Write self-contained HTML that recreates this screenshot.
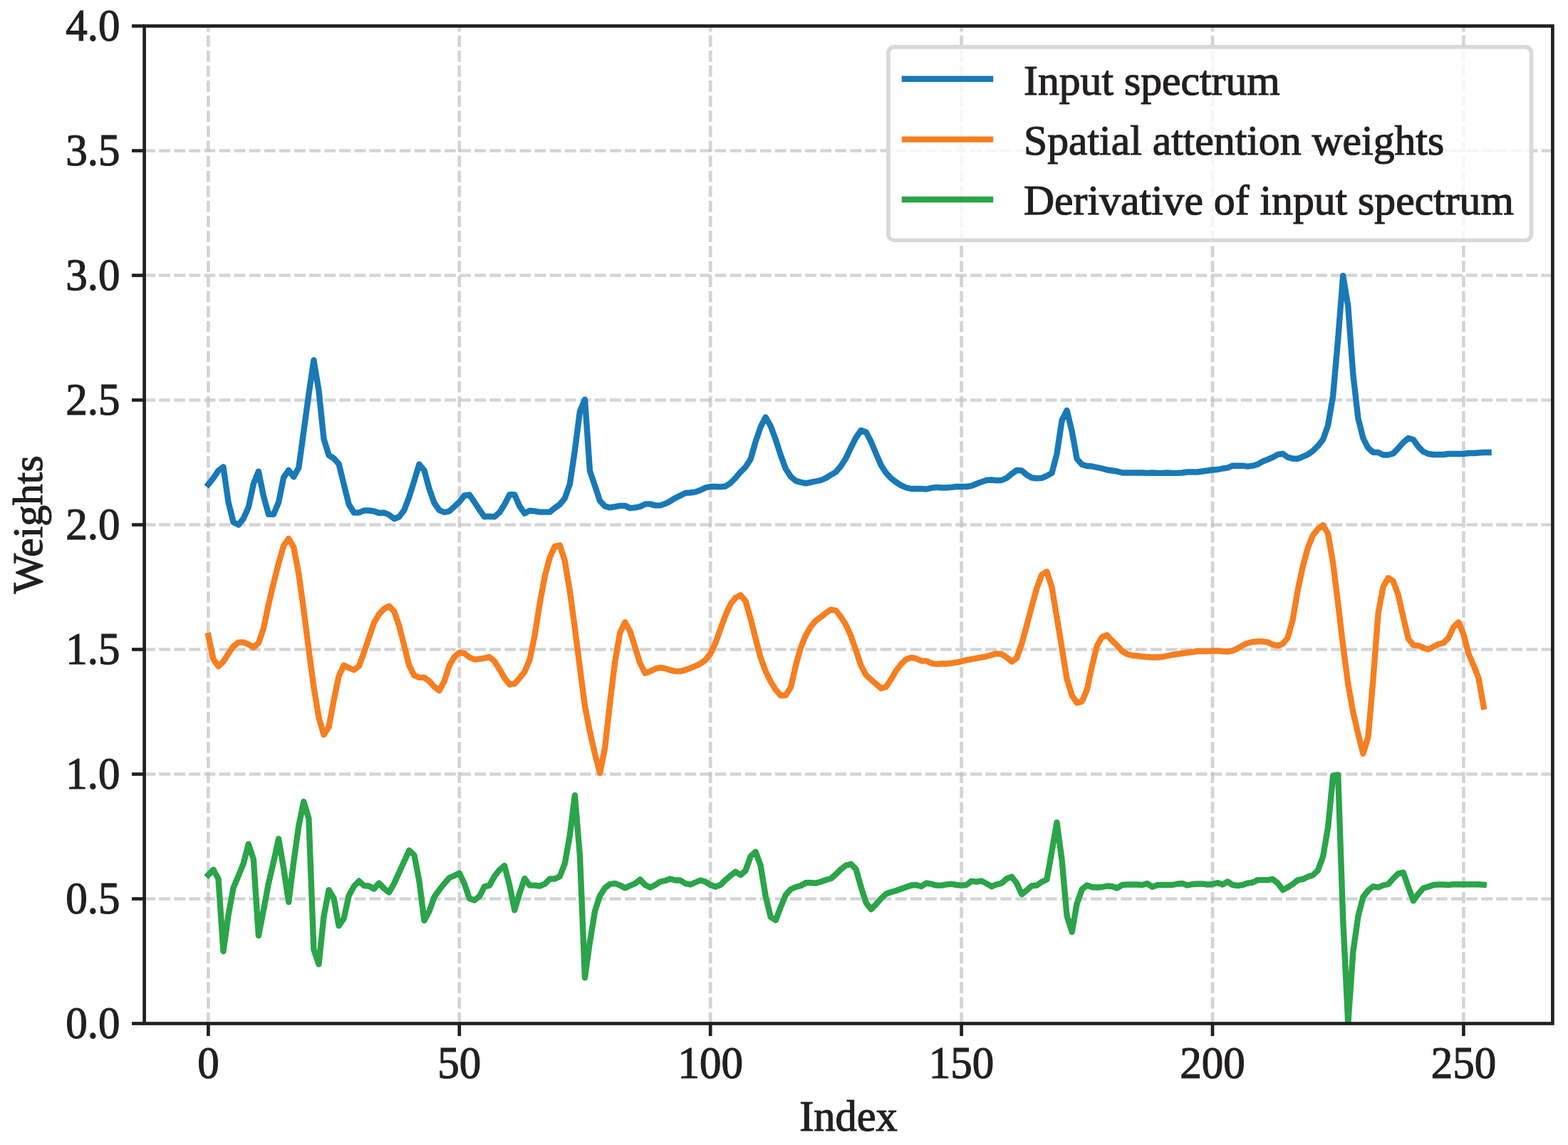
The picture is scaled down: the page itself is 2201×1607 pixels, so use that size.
<!DOCTYPE html>
<html><head><meta charset="utf-8"><title>Weights plot</title>
<style>
html,body{margin:0;padding:0;background:#fff;}
body{width:2201px;height:1607px;overflow:hidden;}
svg{display:block;}
text{font-family:"Liberation Serif","Times New Roman",serif;fill:#231f20;stroke:#231f20;stroke-width:1.2px;}
</style></head><body>
<svg width="2201" height="1607" viewBox="0 0 2201 1607">
<rect x="0" y="0" width="2201" height="1607" fill="#fff"/>
<g stroke="rgba(190,191,194,0.68)" stroke-width="4.7" stroke-dasharray="15.8 5.29" fill="none"><line x1="202.2" y1="1261.5" x2="2179.4" y2="1261.5"/><line x1="202.2" y1="1086.5" x2="2179.4" y2="1086.5"/><line x1="202.2" y1="911.5" x2="2179.4" y2="911.5"/><line x1="202.2" y1="736.5" x2="2179.4" y2="736.5"/><line x1="202.2" y1="561.5" x2="2179.4" y2="561.5"/><line x1="202.2" y1="386.5" x2="2179.4" y2="386.5"/><line x1="202.2" y1="211.5" x2="2179.4" y2="211.5"/><line x1="292.4" y1="1436.5" x2="292.4" y2="36.5"/><line x1="644.8" y1="1436.5" x2="644.8" y2="36.5"/><line x1="997.2" y1="1436.5" x2="997.2" y2="36.5"/><line x1="1349.6" y1="1436.5" x2="1349.6" y2="36.5"/><line x1="1702.0" y1="1436.5" x2="1702.0" y2="36.5"/><line x1="2054.4" y1="1436.5" x2="2054.4" y2="36.5"/></g>
<defs><clipPath id="ax"><rect x="202.6" y="36.5" width="1976.8" height="1400.0"/></clipPath></defs>
<g clip-path="url(#ax)">
<polyline fill="none" stroke="#1979b6" stroke-width="8.4" stroke-linejoin="round" stroke-linecap="square" points="292.4,679.8 299.4,671.1 306.5,660.5 313.5,655.3 320.6,705.0 327.6,733.0 334.7,736.5 341.7,727.8 348.8,712.0 355.8,679.1 362.9,661.6 369.9,696.2 377.0,721.8 384.0,721.8 391.1,705.0 398.1,670.4 405.2,659.9 412.2,669.3 419.3,656.4 426.3,605.6 433.4,553.4 440.4,505.5 447.5,548.2 454.5,616.1 461.6,638.9 468.6,643.4 475.6,651.1 482.7,680.0 489.7,708.0 496.8,719.5 503.8,719.5 510.9,716.5 517.9,716.5 525.0,717.5 532.0,720.0 539.1,719.5 546.1,722.5 553.2,728.0 560.2,725.5 567.3,716.0 574.3,697.5 581.4,675.0 588.4,651.6 595.5,660.1 602.5,686.0 609.6,706.0 616.6,716.0 623.7,719.0 630.7,717.5 637.8,711.0 644.8,704.5 651.8,695.5 658.9,694.5 665.9,704.5 673.0,715.5 680.0,725.2 687.1,724.8 694.1,725.4 701.2,719.2 708.2,708.0 715.3,694.3 722.3,694.3 729.4,710.5 736.4,720.7 743.5,716.7 750.5,717.4 757.6,718.6 764.6,718.6 771.7,718.6 778.7,713.0 785.8,708.0 792.8,699.3 799.9,679.4 806.9,632.1 814.0,577.4 821.0,560.6 828.0,661.0 835.1,681.9 842.1,703.0 849.2,710.5 856.2,712.4 863.3,711.1 870.3,709.9 877.4,709.9 884.4,713.1 891.5,712.4 898.5,711.0 905.6,707.4 912.6,707.4 919.7,709.4 926.7,709.4 933.8,706.9 940.8,703.4 947.9,698.9 954.9,695.4 962.0,691.9 969.0,691.5 976.1,690.4 983.1,688.0 990.2,684.5 997.2,683.0 1004.2,683.0 1011.3,683.4 1018.3,682.5 1025.4,677.9 1032.4,670.9 1039.5,662.4 1046.5,655.5 1053.6,644.5 1060.6,620.0 1067.7,599.0 1074.7,585.5 1081.8,598.0 1088.8,617.0 1095.9,639.0 1102.9,658.0 1110.0,668.9 1117.0,674.9 1124.1,676.9 1131.1,678.4 1138.2,676.9 1145.2,675.5 1152.3,674.0 1159.3,670.9 1166.4,666.5 1173.4,662.4 1180.4,654.0 1187.5,642.9 1194.5,628.0 1201.6,614.0 1208.6,604.0 1215.7,606.5 1222.7,620.0 1229.8,637.0 1236.8,653.0 1243.9,663.9 1250.9,671.4 1258.0,676.9 1265.0,681.4 1272.1,684.5 1279.1,686.0 1286.2,686.0 1293.2,686.0 1300.3,686.5 1307.3,684.9 1314.4,683.9 1321.4,684.5 1328.5,684.5 1335.5,683.9 1342.6,683.0 1349.6,683.0 1356.6,683.0 1363.7,681.9 1370.7,679.0 1377.8,676.4 1384.8,674.0 1391.9,673.5 1398.9,674.4 1406.0,674.0 1413.0,670.9 1420.1,665.0 1427.1,660.0 1434.2,660.4 1441.2,666.5 1448.3,670.5 1455.3,671.4 1462.4,670.9 1469.4,667.9 1476.5,663.9 1483.5,637.0 1490.6,590.0 1497.6,576.0 1504.7,605.5 1511.7,644.0 1518.8,652.0 1525.8,654.0 1532.8,654.5 1539.9,656.0 1546.9,657.5 1554.0,659.5 1561.0,660.5 1568.1,661.5 1575.1,663.5 1582.2,663.5 1589.2,663.5 1596.3,663.5 1603.3,663.5 1610.4,663.9 1617.4,663.5 1624.5,663.9 1631.5,663.9 1638.6,663.5 1645.6,663.9 1652.7,663.9 1659.7,663.5 1666.8,662.5 1673.8,662.5 1680.9,662.5 1687.9,661.5 1695.0,660.5 1702.0,659.5 1709.0,659.0 1716.1,657.5 1723.1,656.7 1730.2,653.7 1737.2,653.7 1744.3,653.7 1751.3,654.7 1758.4,653.7 1765.4,651.7 1772.5,647.7 1779.5,644.8 1786.6,641.8 1793.6,637.8 1800.7,636.8 1807.7,641.8 1814.8,643.8 1821.8,643.8 1828.9,640.8 1835.9,637.8 1843.0,632.8 1850.0,625.8 1857.1,616.9 1864.1,597.0 1871.2,555.2 1878.2,475.5 1885.2,386.9 1892.3,429.7 1899.3,525.3 1906.4,587.0 1913.4,614.9 1920.5,628.8 1927.5,634.8 1934.6,635.0 1941.6,638.5 1948.7,638.5 1955.7,636.5 1962.8,629.0 1969.8,621.0 1976.9,615.0 1983.9,617.0 1991.0,627.0 1998.0,634.0 2005.1,637.0 2012.1,638.0 2019.2,638.0 2026.2,638.0 2033.3,637.0 2040.3,637.0 2047.4,637.0 2054.4,637.0 2061.4,636.0 2068.5,636.0 2075.5,635.5 2082.6,635.0 2089.6,635.0"/>
<polyline fill="none" stroke="#f57f21" stroke-width="8.4" stroke-linejoin="round" stroke-linecap="square" points="292.4,892.2 299.4,924.9 306.5,935.2 313.5,928.6 320.6,917.4 327.6,907.2 334.7,901.6 341.7,901.4 348.8,904.4 355.8,908.6 362.9,902.5 369.9,881.9 377.0,848.3 384.0,818.4 391.1,790.4 398.1,766.1 405.2,755.9 412.2,768.0 419.3,805.4 426.3,855.8 433.4,911.8 440.4,964.1 447.5,1007.0 454.5,1031.3 461.6,1020.1 468.6,982.8 475.6,949.0 482.7,933.8 489.7,937.4 496.8,940.2 503.8,935.0 510.9,915.9 517.9,895.0 525.0,874.0 532.0,862.0 539.1,854.5 546.1,850.7 553.2,858.0 560.2,878.0 567.3,906.0 574.3,934.0 581.4,947.9 588.4,950.9 595.5,950.9 602.5,956.0 609.6,963.9 616.6,969.2 623.7,956.0 630.7,934.0 637.8,922.0 644.8,915.9 651.8,917.0 658.9,922.5 665.9,925.5 673.0,924.9 680.0,923.7 687.1,922.1 694.1,928.2 701.2,939.4 708.2,951.7 715.3,960.7 722.3,959.6 729.4,951.7 736.4,942.8 743.5,926.0 750.5,892.4 757.6,847.5 764.6,809.4 771.7,782.6 778.7,766.9 785.8,765.3 792.8,787.0 799.9,829.6 806.9,881.2 814.0,937.2 821.0,990.9 828.0,1026.8 835.1,1058.1 842.1,1085.0 849.2,1049.2 856.2,986.4 863.3,928.2 870.3,887.9 877.4,873.3 884.4,886.1 891.5,908.5 898.5,930.9 905.6,944.9 912.6,942.1 919.7,938.7 926.7,937.0 933.8,938.2 940.8,940.4 947.9,942.1 954.9,942.1 962.0,940.4 969.0,937.6 976.1,934.8 983.1,931.5 990.2,926.4 997.2,917.4 1004.2,902.9 1011.3,882.7 1018.3,863.7 1025.4,848.0 1032.4,839.0 1039.5,835.3 1046.5,843.5 1053.6,868.2 1060.6,896.2 1067.7,923.0 1074.7,942.1 1081.8,956.6 1088.8,967.9 1095.9,976.2 1102.9,975.7 1110.0,964.5 1117.0,934.2 1124.1,908.5 1131.1,891.7 1138.2,879.4 1145.2,871.0 1152.3,865.9 1159.3,860.3 1166.4,855.6 1173.4,857.0 1180.4,865.9 1187.5,877.1 1194.5,892.8 1201.6,913.0 1208.6,934.2 1215.7,947.7 1222.7,953.9 1229.8,960.0 1236.8,966.0 1243.9,963.9 1250.9,953.3 1258.0,941.0 1265.0,932.0 1272.1,925.3 1279.1,923.0 1286.2,924.2 1293.2,927.5 1300.3,927.6 1307.3,930.8 1314.4,932.1 1321.4,931.5 1328.5,931.5 1335.5,930.8 1342.6,929.6 1349.6,928.3 1356.6,926.4 1363.7,925.1 1370.7,923.8 1377.8,922.5 1384.8,921.3 1391.9,919.3 1398.9,917.4 1406.0,918.1 1413.0,922.5 1420.1,928.6 1427.1,923.8 1434.2,903.4 1441.2,877.9 1448.3,851.1 1455.3,825.6 1462.4,806.5 1469.4,802.4 1476.5,824.3 1483.5,866.4 1490.6,909.8 1497.6,953.1 1504.7,976.1 1511.7,986.4 1518.8,984.4 1525.8,968.0 1532.8,935.0 1539.9,906.0 1546.9,894.0 1554.0,891.5 1561.0,899.0 1568.1,906.0 1575.1,914.0 1582.2,918.0 1589.2,920.0 1596.3,920.5 1603.3,921.5 1610.4,922.0 1617.4,922.5 1624.5,922.5 1631.5,922.0 1638.6,920.5 1645.6,919.0 1652.7,918.0 1659.7,917.0 1666.8,916.0 1673.8,915.0 1680.9,914.0 1687.9,914.0 1695.0,914.0 1702.0,913.5 1709.0,913.5 1716.1,914.0 1723.1,914.5 1730.2,913.4 1737.2,910.1 1744.3,905.8 1751.3,902.5 1758.4,901.0 1765.4,900.3 1772.5,900.3 1779.5,901.4 1786.6,904.7 1793.6,906.2 1800.7,903.6 1807.7,894.9 1814.8,868.8 1821.8,827.4 1828.9,794.7 1835.9,768.6 1843.0,751.1 1850.0,742.4 1857.1,737.0 1864.1,749.0 1871.2,790.3 1878.2,847.0 1885.2,905.8 1892.3,960.3 1899.3,999.5 1906.4,1029.9 1913.4,1057.8 1920.5,1034.3 1927.5,953.7 1934.6,860.6 1941.6,823.3 1948.7,811.1 1955.7,815.8 1962.8,835.3 1969.8,866.6 1976.9,896.5 1983.9,905.4 1991.0,906.2 1998.0,909.2 2005.1,911.4 2012.1,907.7 2019.2,904.0 2026.2,902.5 2033.3,895.0 2040.3,880.1 2047.4,873.4 2054.4,890.5 2061.4,917.4 2068.5,933.8 2075.5,951.8 2082.6,991.8"/>
<polyline fill="none" stroke="#2ba44a" stroke-width="8.4" stroke-linejoin="round" stroke-linecap="square" points="292.4,1228.0 299.4,1220.6 306.5,1233.3 313.5,1335.2 320.6,1284.0 327.6,1246.0 334.7,1229.1 341.7,1212.1 348.8,1184.6 355.8,1205.8 362.9,1313.2 369.9,1277.7 377.0,1239.6 384.0,1210.0 391.1,1177.2 398.1,1218.5 405.2,1266.0 412.2,1210.0 419.3,1159.2 426.3,1125.0 433.4,1148.7 440.4,1332.7 447.5,1353.4 454.5,1286.1 461.6,1249.1 468.6,1260.8 475.6,1299.4 482.7,1288.9 489.7,1257.0 496.8,1244.0 503.8,1236.5 510.9,1243.0 517.9,1243.5 525.0,1247.5 532.0,1239.5 539.1,1247.0 546.1,1252.5 553.2,1240.0 560.2,1224.5 567.3,1209.0 574.3,1193.5 581.4,1200.0 588.4,1236.0 595.5,1292.0 602.5,1279.0 609.6,1259.0 616.6,1249.0 623.7,1240.0 630.7,1232.0 637.8,1229.0 644.8,1225.5 651.8,1240.0 658.9,1261.0 665.9,1263.5 673.0,1258.0 680.0,1244.4 687.1,1242.6 694.1,1229.9 701.2,1220.9 708.2,1215.0 715.3,1242.6 722.3,1277.4 729.4,1253.4 736.4,1233.0 743.5,1242.6 750.5,1242.6 757.6,1243.5 764.6,1240.8 771.7,1233.5 778.7,1233.5 785.8,1229.9 792.8,1211.9 799.9,1172.2 806.9,1116.2 814.0,1201.1 821.0,1372.2 828.0,1322.0 835.1,1278.7 842.1,1257.0 849.2,1246.2 856.2,1240.8 863.3,1239.9 870.3,1242.6 877.4,1246.2 884.4,1243.0 891.5,1240.0 898.5,1234.5 905.6,1242.0 912.6,1245.5 919.7,1242.0 926.7,1237.5 933.8,1236.0 940.8,1233.5 947.9,1235.5 954.9,1235.5 962.0,1240.0 969.0,1241.5 976.1,1238.5 983.1,1235.5 990.2,1237.5 997.2,1242.0 1004.2,1244.5 1011.3,1242.0 1018.3,1235.0 1025.4,1229.0 1032.4,1223.5 1039.5,1228.0 1046.5,1222.0 1053.6,1202.0 1060.6,1195.5 1067.7,1215.0 1074.7,1258.0 1081.8,1286.9 1088.8,1291.5 1095.9,1272.9 1102.9,1256.0 1110.0,1248.0 1117.0,1245.0 1124.1,1243.0 1131.1,1239.0 1138.2,1239.0 1145.2,1239.5 1152.3,1237.5 1159.3,1235.0 1166.4,1233.0 1173.4,1227.0 1180.4,1220.0 1187.5,1214.5 1194.5,1212.8 1201.6,1220.0 1208.6,1245.0 1215.7,1267.0 1222.7,1276.2 1229.8,1269.0 1236.8,1261.0 1243.9,1254.5 1250.9,1252.0 1258.0,1250.0 1265.0,1247.5 1272.1,1245.0 1279.1,1242.5 1286.2,1242.0 1293.2,1244.0 1300.3,1239.5 1307.3,1240.7 1314.4,1242.6 1321.4,1242.6 1328.5,1241.4 1335.5,1240.7 1342.6,1242.0 1349.6,1242.6 1356.6,1242.0 1363.7,1236.7 1370.7,1237.6 1377.8,1236.4 1384.8,1240.1 1391.9,1244.2 1398.9,1241.4 1406.0,1239.5 1413.0,1233.3 1420.1,1230.6 1427.1,1239.5 1434.2,1255.1 1441.2,1249.5 1448.3,1243.2 1455.3,1242.6 1462.4,1237.6 1469.4,1234.5 1476.5,1194.7 1483.5,1154.3 1490.6,1207.1 1497.6,1285.5 1504.7,1307.9 1511.7,1268.0 1518.8,1248.0 1525.8,1242.5 1532.8,1245.0 1539.9,1245.5 1546.9,1245.0 1554.0,1243.5 1561.0,1244.0 1568.1,1246.5 1575.1,1242.0 1582.2,1241.5 1589.2,1241.5 1596.3,1241.5 1603.3,1242.0 1610.4,1240.0 1617.4,1244.8 1624.5,1242.0 1631.5,1242.0 1638.6,1242.0 1645.6,1242.0 1652.7,1240.5 1659.7,1240.0 1666.8,1242.5 1673.8,1241.0 1680.9,1240.5 1687.9,1240.5 1695.0,1241.5 1702.0,1241.0 1709.0,1239.0 1716.1,1241.5 1723.1,1237.3 1730.2,1241.9 1737.2,1243.0 1744.3,1241.9 1751.3,1239.6 1758.4,1238.5 1765.4,1235.1 1772.5,1235.1 1779.5,1235.1 1786.6,1233.9 1793.6,1239.6 1800.7,1249.1 1807.7,1245.3 1814.8,1240.7 1821.8,1235.1 1828.9,1233.9 1835.9,1230.5 1843.0,1228.2 1850.0,1221.4 1857.1,1202.1 1864.1,1161.3 1871.2,1088.6 1878.2,1087.5 1885.2,1290.7 1892.3,1436.0 1899.3,1336.1 1906.4,1286.1 1913.4,1258.9 1920.5,1249.8 1927.5,1244.1 1934.6,1245.5 1941.6,1242.5 1948.7,1241.0 1955.7,1233.0 1962.8,1226.0 1969.8,1224.5 1976.9,1245.0 1983.9,1264.3 1991.0,1254.5 1998.0,1246.5 2005.1,1244.5 2012.1,1242.0 2019.2,1241.5 2026.2,1241.5 2033.3,1242.0 2040.3,1241.2 2047.4,1241.2 2054.4,1241.2 2061.4,1241.2 2068.5,1241.2 2075.5,1241.2 2082.6,1241.8"/>
</g>
<g stroke="#231f20" stroke-width="4.7"><line x1="185.0" y1="1436.5" x2="202.6" y2="1436.5"/><line x1="185.0" y1="1261.5" x2="202.6" y2="1261.5"/><line x1="185.0" y1="1086.5" x2="202.6" y2="1086.5"/><line x1="185.0" y1="911.5" x2="202.6" y2="911.5"/><line x1="185.0" y1="736.5" x2="202.6" y2="736.5"/><line x1="185.0" y1="561.5" x2="202.6" y2="561.5"/><line x1="185.0" y1="386.5" x2="202.6" y2="386.5"/><line x1="185.0" y1="211.5" x2="202.6" y2="211.5"/><line x1="185.0" y1="36.5" x2="202.6" y2="36.5"/><line x1="292.4" y1="1436.5" x2="292.4" y2="1454.1"/><line x1="644.8" y1="1436.5" x2="644.8" y2="1454.1"/><line x1="997.2" y1="1436.5" x2="997.2" y2="1454.1"/><line x1="1349.6" y1="1436.5" x2="1349.6" y2="1454.1"/><line x1="1702.0" y1="1436.5" x2="1702.0" y2="1454.1"/><line x1="2054.4" y1="1436.5" x2="2054.4" y2="1454.1"/></g>
<rect x="202.6" y="36.5" width="1976.8" height="1400.0" fill="none" stroke="#231f20" stroke-width="4.7" stroke-linejoin="miter"/>
<g font-size="60"><text transform="translate(168.5,1457.1) scale(1,1.036)" font-size="61" text-anchor="end">0.0</text><text transform="translate(168.5,1282.1) scale(1,1.036)" font-size="61" text-anchor="end">0.5</text><text transform="translate(168.5,1107.1) scale(1,1.036)" font-size="61" text-anchor="end">1.0</text><text transform="translate(168.5,932.1) scale(1,1.036)" font-size="61" text-anchor="end">1.5</text><text transform="translate(168.5,757.1) scale(1,1.036)" font-size="61" text-anchor="end">2.0</text><text transform="translate(168.5,582.1) scale(1,1.036)" font-size="61" text-anchor="end">2.5</text><text transform="translate(168.5,407.1) scale(1,1.036)" font-size="61" text-anchor="end">3.0</text><text transform="translate(168.5,232.1) scale(1,1.036)" font-size="61" text-anchor="end">3.5</text><text transform="translate(168.5,57.1) scale(1,1.036)" font-size="61" text-anchor="end">4.0</text><text transform="translate(292.4,1513.0) scale(1,1.036)" font-size="61" text-anchor="middle">0</text><text transform="translate(644.8,1513.0) scale(1,1.036)" font-size="61" text-anchor="middle">50</text><text transform="translate(997.2,1513.0) scale(1,1.036)" font-size="61" text-anchor="middle">100</text><text transform="translate(1349.6,1513.0) scale(1,1.036)" font-size="61" text-anchor="middle">150</text><text transform="translate(1702.0,1513.0) scale(1,1.036)" font-size="61" text-anchor="middle">200</text><text transform="translate(2054.4,1513.0) scale(1,1.036)" font-size="61" text-anchor="middle">250</text><text x="1191.0" y="1586.6" font-size="60.5" text-anchor="middle">Index</text><text transform="translate(59.3,736.3) rotate(-90)" font-size="59.6" text-anchor="middle">Weights</text></g>
<rect x="1246.9" y="65.9" width="902.6" height="271.35" rx="8.5" ry="8.5" fill="rgba(255,255,255,0.8)" stroke="#d8d9db" stroke-width="5.7"/>
<line x1="1269.9" y1="110.8" x2="1390" y2="110.8" stroke="#1979b6" stroke-width="8.4" stroke-linecap="square"/><text x="1437" y="133.3" font-size="59.7">Input spectrum</text>
<line x1="1269.9" y1="195.6" x2="1390" y2="195.6" stroke="#f57f21" stroke-width="8.4" stroke-linecap="square"/><text x="1437" y="217.4" font-size="59.7">Spatial attention weights</text>
<line x1="1269.9" y1="280.0" x2="1390" y2="280.0" stroke="#2ba44a" stroke-width="8.4" stroke-linecap="square"/><text x="1437" y="301.4" font-size="59.7">Derivative of input spectrum</text>
</svg>
</body></html>
